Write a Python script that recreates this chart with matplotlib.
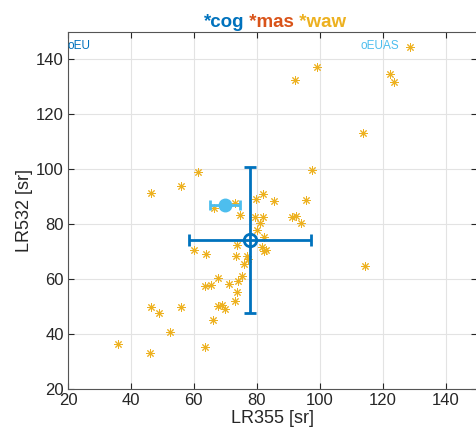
import matplotlib
matplotlib.use("Agg")
import matplotlib.pyplot as plt
import numpy as np

plt.rcParams['font.family'] = ['Liberation Sans', 'DejaVu Sans']

# waw lidar ratios (355, 532)
waw_lr355 = [36.0, 46.1, 46.4, 48.8, 52.3, 56.0, 46.4, 56.0, 61.3, 60.0,
             64.0, 63.5, 65.3, 63.5, 66.1, 67.7, 68.8, 70.0, 67.7, 71.1,
             73.9, 73.8, 73.2, 75.2, 76.0, 73.3, 76.8, 73.8, 66.5, 73.1,
             74.6, 79.8, 82.0, 85.6, 95.7, 97.6, 79.5, 82.0, 81.0, 80.0,
             82.4, 81.7, 82.9, 82.4, 91.1, 92.4, 94.1, 99.0, 92.1, 122.2,
             123.6, 113.7, 114.3, 128.6, 77.2]
waw_lr532 = [36.5, 33.0, 49.9, 47.5, 40.7, 49.9, 91.2, 93.8, 98.9, 70.5,
             69.3, 57.4, 57.7, 35.2, 45.0, 50.3, 50.5, 49.3, 60.3, 58.1,
             59.3, 55.4, 51.9, 61.0, 65.7, 68.6, 68.5, 72.4, 86.0, 87.6,
             83.2, 89.2, 90.9, 88.4, 88.7, 99.9, 82.6, 82.7, 80.5, 77.8,
             75.4, 71.8, 70.6, 70.2, 82.5, 83.0, 80.5, 137.2, 132.6, 134.8,
             131.8, 113.2, 64.7, 144.5, 67.5]

# mean +- std
eu_mean = (77.8, 74.2)
eu_std = (19.3, 26.5)
euas_mean = (69.9, 86.9)
euas_std = (4.7, 1.0)

c_blue = '#0072BD'
c_orange = '#D95319'
c_yellow = '#EDB120'
c_light = '#4DBEEE'

fig = plt.figure(figsize=(4.76, 4.4), dpi=100)
ax = fig.add_axes([68/476, 51/440, 409/476, 357/440])

ax.plot(waw_lr355, waw_lr532, linestyle='none', marker=(8, 2, 0),
        color=c_yellow, markersize=6, markeredgewidth=0.7, zorder=3)

ax.errorbar(eu_mean[0], eu_mean[1], xerr=eu_std[0], yerr=eu_std[1],
            fmt='o', color=c_blue, mfc='none', mec=c_blue, markersize=9,
            markeredgewidth=2, elinewidth=2, capsize=4, capthick=2, zorder=4)
ax.errorbar(euas_mean[0], euas_mean[1], xerr=euas_std[0], yerr=euas_std[1],
            fmt='o', color=c_light, mfc=c_light, mec=c_light, markersize=9,
            elinewidth=2, capsize=3.5, capthick=2, zorder=4)

ax.text(20, 145, 'oEU', color=c_blue, fontsize=8.5, va='center', ha='left')
ax.text(113, 145, 'oEUAS', color=c_light, fontsize=8.5, va='center', ha='left')

ax.set_xlim(20, 150)
ax.set_ylim(20, 150)
ax.set_xticks(np.arange(20, 141, 20))
ax.set_yticks(np.arange(20, 141, 20))
ax.grid(True, color='#e3e3e3', linewidth=0.8)
ax.set_axisbelow(True)
ax.tick_params(direction='in', top=True, right=True, labelsize=12,
               colors='#262626', length=4, width=0.8, pad=3)
for s in ax.spines.values():
    s.set_color('#555555')
    s.set_linewidth(0.8)
ax.set_xlabel('LR355 [sr]', fontsize=13, color='#262626', labelpad=1)
ax.set_ylabel('LR532 [sr]', fontsize=13, color='#262626', labelpad=2)

# coloured title pieces
t1 = fig.text(204/476, 413/440, '*cog', color=c_blue, fontsize=13.5,
              fontweight='bold', ha='left', va='baseline')
t2 = ax.annotate(' *mas', xy=(1, 0), xycoords=t1, color=c_orange, fontsize=13.5,
                 fontweight='bold', ha='left', va='bottom')
t3 = ax.annotate(' *waw', xy=(1, 0), xycoords=t2, color=c_yellow, fontsize=13.5,
                 fontweight='bold', ha='left', va='bottom')

fig.savefig('out.png', dpi=100)
